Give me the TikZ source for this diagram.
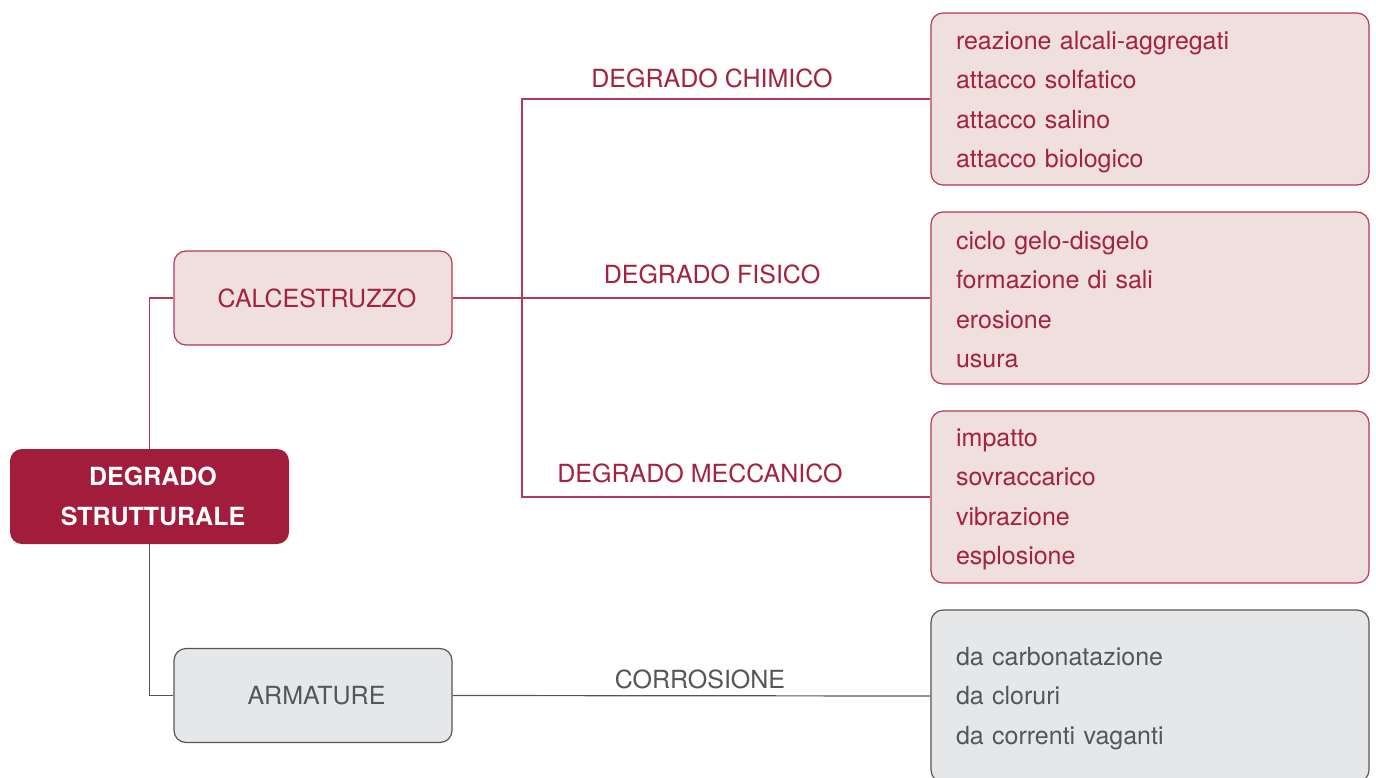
\documentclass[tikz,border=0pt]{standalone}
\usepackage{fontspec}
\setmainfont{TeX Gyre Heros}
\definecolor{dred}{HTML}{A11D3B}
\definecolor{tred}{HTML}{A4213F}
\definecolor{lred}{HTML}{EFDFDD}
\definecolor{bred}{HTML}{B3385A}
\definecolor{lgrey}{HTML}{E6E7E8}
\definecolor{bgrey}{HTML}{555555}
\definecolor{tgrey}{HTML}{555658}
\begin{document}
\begin{tikzpicture}[x=1pt,y=-1pt,
  txt/.style={font=\fontsize{25}{39.4}\selectfont},
  mainbox/.style={draw=none,fill=dred,rounded corners=12pt,minimum width=279pt,minimum height=95pt,text=white,align=center,font=\fontsize{25}{40}\selectfont\bfseries,inner sep=0pt},
  redbox/.style={draw=bred,line width=1.2pt,fill=lred,rounded corners=12pt,text=tred,inner sep=0pt},
  greybox/.style={draw=bgrey,line width=1.2pt,fill=lgrey,rounded corners=12pt,text=tgrey,inner sep=0pt},
  midbox/.style={minimum width=278pt,minimum height=94pt,txt},
  listbox/.style={minimum width=438pt,minimum height=172pt},
  listtext/.style={txt,align=left,anchor=center,inner sep=0pt,text width=388pt},
  rline/.style={draw=bred,line width=1.2pt},
  gline/.style={draw=bgrey,line width=1.2pt},
  lbl/.style={txt,text=tred,anchor=base,inner sep=0pt},
]
\useasboundingbox (0,0) rectangle (1376,777);
\begin{scope}
\clip (0,0) rectangle (1376,777);
\node[mainbox] (ds) at (149.5,496.5) {\hspace*{7pt}DEGRADO\\\hspace*{7pt}STRUTTURALE};
\node[redbox,midbox] (calc) at (313,298) {\hspace*{8pt}CALCESTRUZZO};
\node[greybox,midbox] (arm) at (313,695.5) {\hspace*{7pt}ARMATURE};
\node[redbox,listbox] (chem) at (1150,99) {};
\node[listtext,text=tred] (chemt) at (1150,102) {reazione alcali-aggregati\\attacco solfatico\\attacco salino\\attacco biologico};
\node[redbox,listbox] (fis) at (1150,298) {};
\node[listtext,text=tred] (fist) at (1150,299.5) {ciclo gelo-disgelo\\formazione di sali\\erosione\\usura};
\node[redbox,listbox] (mec) at (1150,497) {};
\node[listtext,text=tred] (mect) at (1150,499.5) {impatto\\sovraccarico\\vibrazione\\esplosione};
\node[greybox,listbox] (cor) at (1150,696) {};
\node[listtext,text=tgrey] (cort) at (1150,698.5) {da carbonatazione\\da cloruri\\da correnti vaganti};
\coordinate (j) at (522,298);
\draw[rline] (ds.north) |- (calc.west);
\draw[gline] (ds.south) |- (arm.west);
\draw[rline] (calc.east) -- (fis.west);
\draw[rline] (chem.west) -| (j) |- (mec.west);
\draw[gline] (arm.east) -- (cor.west);
\node[lbl] (l1) at (712,87) {DEGRADO CHIMICO};
\node[lbl] (l2) at (712,283) {DEGRADO FISICO};
\node[lbl] (l3) at (700,482) {DEGRADO MECCANICO};
\node[lbl,text=tgrey] (l4) at (700,688) {CORROSIONE};
\end{scope}
\end{tikzpicture}
\end{document}
